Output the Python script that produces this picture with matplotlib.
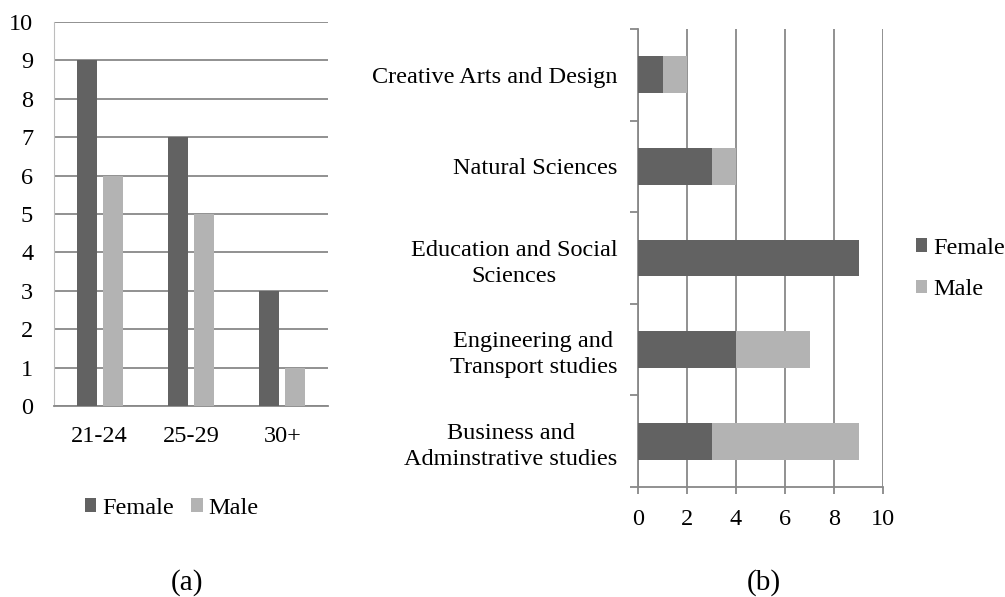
import matplotlib
matplotlib.use("Agg")
import matplotlib.pyplot as plt
import numpy as np

# datos (a): edades
edades = ["21-24", "25-29", "30+"]
edad_female = [9, 7, 3]
edad_male = [6, 5, 1]

# datos (b): áreas de estudio
areas = ["Creative Arts and Design", "Natural Sciences",
         "Education and Social\nSciences", "Engineering and\nTransport studies",
         "Business and\nAdminstrative studies"]
area_female = [1, 3, 9, 4, 3]
area_male = [1, 1, 0, 3, 6]

C_FEM = "#626262"
C_MAL = "#b3b3b3"
C_GRID = "#888888"

plt.rcParams["font.family"] = ["Liberation Serif", "DejaVu Serif"]
plt.rcParams["font.size"] = 17.5

fig = plt.figure(figsize=(10.05, 5.97), dpi=100)
W, H = 1005, 597

def caja(x0, y0, x1, y1):
    return [x0 / W, (H - y1) / H, (x1 - x0) / W, (y1 - y0) / H]

# ---- (a) columnas agrupadas ----
ax1 = fig.add_axes(caja(54, 22, 328, 406))
x = np.arange(len(edades))
ax1.bar(x - 0.142, edad_female, width=0.22, color=C_FEM, label="Female", zorder=3)
ax1.bar(x + 0.142, edad_male, width=0.22, color=C_MAL, label="Male", zorder=3)
ax1.set_xlim(-0.5, 2.5)
ax1.set_ylim(0, 10)
ax1.set_yticks(range(0, 11))
ax1.set_xticks(x)
ax1.set_xticklabels(edades)
ax1.grid(axis="y", color=C_GRID, linewidth=1.3, zorder=0)
for s in ["top", "right"]:
    ax1.spines[s].set_visible(False)
ax1.spines["left"].set_color("#bdbdbd")
ax1.spines["bottom"].set_color(C_GRID)
ax1.spines["bottom"].set_linewidth(1.3)
ax1.tick_params(axis="y", length=0, pad=15)
ax1.tick_params(axis="x", length=0, pad=14.5)
ax1.legend(loc="center left", bbox_to_anchor=(85 / W, 1 - 508 / H),
           bbox_transform=fig.transFigure, ncol=2, frameon=False,
           borderpad=0, borderaxespad=0,
           handlelength=0.47, handleheight=0.47, handletextpad=0.25, columnspacing=0.7)
fig.text(187 / W, 1 - 583 / H, "(a)", ha="center", va="center", fontsize=21)

# ---- (b) barras horizontales apiladas ----
ax2 = fig.add_axes(caja(638, 29, 883, 487))
y = np.arange(len(areas))
ax2.barh(y, area_female, height=0.4, color=C_FEM, label="Female", zorder=3)
ax2.barh(y, area_male, height=0.4, left=area_female, color=C_MAL, label="Male", zorder=3)
ax2.set_ylim(4.5, -0.5)
ax2.set_xlim(0, 10)
ax2.set_xticks(range(0, 11, 2))
ax2.set_yticks(y)
ax2.set_yticklabels(areas, multialignment="center", linespacing=1.33)
ax2.set_yticks(np.arange(-0.5, 5, 1), minor=True)
ax2.grid(axis="x", color=C_GRID, linewidth=1.3, zorder=0)
for s in ["top", "right"]:
    ax2.spines[s].set_visible(False)
for s in ["left", "bottom"]:
    ax2.spines[s].set_color(C_GRID)
    ax2.spines[s].set_linewidth(1.3)
ax2.tick_params(axis="y", which="major", length=0, pad=15)
ax2.tick_params(axis="y", which="minor", length=6, color=C_GRID, width=1.3)
ax2.tick_params(axis="x", length=5, color=C_GRID, width=1.3, pad=10.5)
ax2.legend(loc="center left", bbox_to_anchor=(916 / W, 1 - 269 / H),
           bbox_transform=fig.transFigure, frameon=False,
           borderpad=0, borderaxespad=0,
           handlelength=0.47, handleheight=0.47, handletextpad=0.25, labelspacing=0.85)
fig.text(764 / W, 1 - 583 / H, "(b)", ha="center", va="center", fontsize=21)

fig.savefig("out.png", dpi=100)
